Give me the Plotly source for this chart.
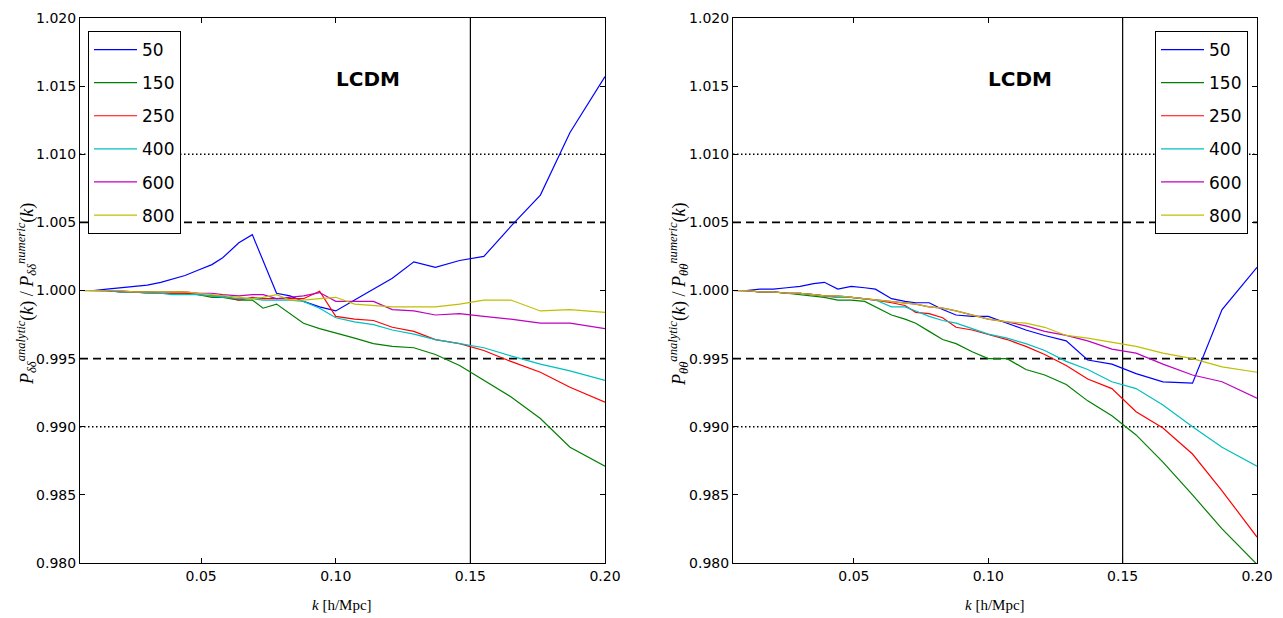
import plotly.graph_objects as go

# ---- data ----
K = [0.005, 0.010, 0.015, 0.020, 0.025, 0.030, 0.035, 0.039, 0.044, 0.049,
     0.054, 0.058, 0.064, 0.069, 0.073, 0.078, 0.083, 0.088, 0.094, 0.100,
     0.107, 0.114, 0.121, 0.129, 0.137, 0.146, 0.155, 0.165, 0.176, 0.187, 0.200]

LABELS = ["50", "150", "250", "400", "600", "800"]
COLORS = ["#0000ff", "#008000", "#ff0000", "#00bfbf", "#bf00bf", "#bfbf00"]

# left panel: P_dd analytic / numeric
dd_50 = [1.0000, 1.0000, 1.0001, 1.0002, 1.0003, 1.0004, 1.0006, 1.0008, 1.0011, 1.0015,
         1.0019, 1.0024, 1.0035, 1.0041, 1.0022, 0.9998, 0.9996, 0.9992, 0.9988, 0.9985,
         0.9993, 1.0001, 1.0009, 1.0021, 1.0017, 1.0022, 1.0025, 1.0047, 1.0070, 1.0116, 1.0157]
dd_150 = [1.0000, 1.0000, 0.99998, 0.9999, 0.9999, 0.9998, 0.9998, 0.9998, 0.9998, 0.9997,
          0.9995, 0.9995, 0.9993, 0.9993, 0.9987, 0.9990, 0.9983, 0.9976, 0.9972, 0.9969,
          0.9965, 0.9961, 0.9959, 0.9958, 0.9953, 0.9945, 0.9934, 0.9922, 0.9906, 0.9885, 0.9871]
dd_250 = [1.0000, 1.0000, 0.99998, 0.9999, 0.9999, 0.9999, 0.9998, 0.9998, 0.9998, 0.9997,
          0.9996, 0.9996, 0.9993, 0.9995, 0.9994, 0.9994, 0.9994, 0.9994, 0.99995, 0.9981,
          0.9979, 0.9978, 0.9973, 0.9970, 0.9964, 0.9961, 0.9956, 0.9948, 0.9940, 0.9929, 0.9918]
dd_400 = [1.0000, 1.0000, 0.99998, 0.9999, 0.9999, 0.9998, 0.9998, 0.9997, 0.9997, 0.9997,
          0.9996, 0.9995, 0.9994, 0.9994, 0.9993, 0.9993, 0.9993, 0.9992, 0.9987, 0.9980,
          0.9977, 0.9975, 0.9971, 0.9968, 0.9964, 0.9961, 0.9958, 0.9952, 0.9946, 0.9941, 0.9934]
dd_600 = [1.0000, 1.0000, 1.0000, 0.99998, 0.9999, 0.9999, 0.9999, 0.9999, 0.9999, 0.9998,
          0.9998, 0.9997, 0.9996, 0.9997, 0.9997, 0.9994, 0.9995, 0.9996, 0.99985, 0.9992,
          0.9992, 0.9992, 0.9986, 0.9985, 0.9982, 0.9983, 0.9981, 0.9979, 0.9976, 0.9976, 0.9972]
dd_800 = [1.0000, 1.0000, 1.0000, 0.99998, 0.9999, 0.9999, 0.9999, 0.9999, 0.9999, 0.9998,
          0.9997, 0.9996, 0.9995, 0.9994, 0.9995, 0.9997, 0.9993, 0.9993, 0.9994, 0.9995,
          0.9990, 0.9989, 0.9988, 0.9988, 0.9988, 0.9990, 0.9993, 0.9993, 0.9985, 0.9986, 0.9984]

# right panel: P_tt analytic / numeric
tt_50 = [1.0000, 1.0000, 1.0001, 1.0001, 1.0002, 1.0003, 1.0005, 1.0006, 1.0001, 1.0003,
         1.0002, 1.0001, 0.9994, 0.9992, 0.9991, 0.9991, 0.9986, 0.9982, 0.9981, 0.9981,
         0.9976, 0.9971, 0.9967, 0.9963, 0.9949, 0.9946, 0.9939, 0.9933, 0.9932, 0.9986, 1.0017]
tt_150 = [1.0000, 0.99998, 0.9999, 0.9999, 0.9998, 0.9997, 0.9996, 0.9995, 0.9993, 0.9993,
          0.9992, 0.9988, 0.9982, 0.9979, 0.9976, 0.9970, 0.9964, 0.9961, 0.9955, 0.9950,
          0.9950, 0.9942, 0.9938, 0.9931, 0.9919, 0.9908, 0.9894, 0.9874, 0.9850, 0.9825, 0.9799]
tt_250 = [1.0000, 0.99998, 0.9999, 0.9999, 0.9998, 0.9998, 0.9997, 0.9996, 0.9995, 0.9995,
          0.9994, 0.9993, 0.9991, 0.9989, 0.9984, 0.9983, 0.9980, 0.9973, 0.9971, 0.9968,
          0.9964, 0.9959, 0.9953, 0.9945, 0.9935, 0.9928, 0.9911, 0.9899, 0.9880, 0.9853, 0.9819]
tt_400 = [1.0000, 0.99998, 0.9999, 0.9999, 0.9998, 0.9998, 0.9997, 0.9996, 0.9995, 0.9995,
          0.9994, 0.9993, 0.9988, 0.9988, 0.9985, 0.9981, 0.9978, 0.9976, 0.9972, 0.9968,
          0.9965, 0.9961, 0.9956, 0.9948, 0.9942, 0.9933, 0.9928, 0.9916, 0.9900, 0.9885, 0.9871]
tt_600 = [1.0000, 0.99998, 0.9999, 0.9999, 0.9998, 0.9998, 0.9997, 0.9996, 0.9996, 0.9995,
          0.9994, 0.9993, 0.9992, 0.9991, 0.9990, 0.9988, 0.9987, 0.9985, 0.9982, 0.9979,
          0.9977, 0.9974, 0.9970, 0.9967, 0.9963, 0.9957, 0.9954, 0.9946, 0.9938, 0.9933, 0.9921]
tt_800 = [1.0000, 0.99998, 0.9999, 0.9999, 0.9998, 0.9998, 0.9997, 0.9996, 0.9996, 0.9995,
          0.9994, 0.9993, 0.9992, 0.9991, 0.9990, 0.9988, 0.9987, 0.9985, 0.9982, 0.9979,
          0.9977, 0.9976, 0.9973, 0.9967, 0.9965, 0.9962, 0.9959, 0.9954, 0.9950, 0.9944, 0.9940]

DD = [dd_50, dd_150, dd_250, dd_400, dd_600, dd_800]
TT = [tt_50, tt_150, tt_250, tt_400, tt_600, tt_800]

Y_TICKS = [0.980, 0.985, 0.990, 0.995, 1.000, 1.005, 1.010, 1.015, 1.020]
X_TICKS = [0.05, 0.10, 0.15, 0.20]
DOTTED = [1.010, 0.990]
DASHED = [1.005, 0.995]
K_CUT = 0.15

# ---- figure ----
W, H = 1283, 618
fig = go.Figure()

for i, (lab, col) in enumerate(zip(LABELS, COLORS)):
    fig.add_trace(go.Scatter(x=K, y=DD[i], mode="lines", name=lab,
                             line=dict(color=col, width=1.2),
                             xaxis="x", yaxis="y", legend="legend",
                             legendgroup="L" + lab))
for i, (lab, col) in enumerate(zip(LABELS, COLORS)):
    fig.add_trace(go.Scatter(x=K, y=TT[i], mode="lines", name=lab,
                             line=dict(color=col, width=1.2),
                             xaxis="x2", yaxis="y2", legend="legend2",
                             legendgroup="R" + lab))

def px_x(p):
    return p / W

def px_y(p):
    return 1 - p / H

xdom1 = [px_x(80), px_x(605)]
xdom2 = [px_x(733), px_x(1257)]
ydom = [px_y(563), px_y(18)]

tickfont = dict(family="DejaVu Sans", size=14, color="black")
axis_common = dict(showgrid=False, zeroline=False, showline=True, linecolor="black",
                   linewidth=1, mirror="ticks", ticks="inside", ticklen=5,
                   tickcolor="black", tickfont=tickfont, automargin=False)

legend_common = dict(yanchor="top", bgcolor="white", bordercolor="black", borderwidth=1,
                     font=dict(family="DejaVu Sans", size=17, color="black"),
                     tracegroupgap=8, itemwidth=43)

fig.update_layout(
    width=W, height=H,
    margin=dict(l=0, r=0, t=0, b=0),
    paper_bgcolor="white", plot_bgcolor="white",
    xaxis=dict(domain=xdom1, range=[0.005, 0.2], tickvals=X_TICKS,
               ticktext=["%.2f" % v for v in X_TICKS], anchor="y", **axis_common),
    yaxis=dict(domain=ydom, range=[0.98, 1.02], tickvals=Y_TICKS,
               ticktext=["%.3f" % v for v in Y_TICKS], anchor="x", **axis_common),
    xaxis2=dict(domain=xdom2, range=[0.005, 0.2], tickvals=X_TICKS,
                ticktext=["%.2f" % v for v in X_TICKS], anchor="y2", **axis_common),
    yaxis2=dict(domain=ydom, range=[0.98, 1.02], tickvals=Y_TICKS,
                ticktext=["%.3f" % v for v in Y_TICKS], anchor="x2", **axis_common),
    legend=dict(x=px_x(88), y=px_y(31), xanchor="left", **legend_common),
    legend2=dict(x=px_x(1248), y=px_y(31), xanchor="right", **legend_common),
    showlegend=True,
)

for xa, ya in [("x", "y"), ("x2", "y2")]:
    for v in DOTTED:
        fig.add_shape(type="line", xref=xa + " domain", yref=ya, x0=0, x1=1, y0=v, y1=v,
                      line=dict(color="black", width=1.3, dash="1.5px,2.5px"), layer="below")
    for v in DASHED:
        fig.add_shape(type="line", xref=xa + " domain", yref=ya, x0=0, x1=1, y0=v, y1=v,
                      line=dict(color="black", width=1.6, dash="8px,5px"), layer="below")
    fig.add_shape(type="line", xref=xa, yref=ya + " domain", x0=K_CUT, x1=K_CUT, y0=0, y1=1,
                  line=dict(color="black", width=1.2), layer="below")

title_font = dict(family="Liberation Serif", size=15, color="black")
ytitle_font = dict(family="Liberation Serif", size=18, color="black")
ann = [
    dict(text="<b>LCDM</b>", x=px_x(368), y=px_y(79),
         font=dict(family="DejaVu Sans", size=20, color="black")),
    dict(text="<b>LCDM</b>", x=px_x(1020), y=px_y(79),
         font=dict(family="DejaVu Sans", size=20, color="black")),
    dict(text="<i>k</i> [h/Mpc]", x=px_x(342), y=px_y(605), font=title_font),
    dict(text="<i>k</i> [h/Mpc]", x=px_x(995), y=px_y(605), font=title_font),
    dict(text="<i>P</i><sub><i>δδ</i></sub><sup><i>analytic</i></sup>(<i>k</i>) / "
              "<i>P</i><sub><i>δδ</i></sub><sup><i>numeric</i></sup>(<i>k</i>)",
         x=px_x(26), y=px_y(294), textangle=-90, font=ytitle_font),
    dict(text="<i>P</i><sub><i>θθ</i></sub><sup><i>analytic</i></sup>(<i>k</i>) / "
              "<i>P</i><sub><i>θθ</i></sub><sup><i>numeric</i></sup>(<i>k</i>)",
         x=px_x(678), y=px_y(294), textangle=-90, font=ytitle_font),
]
for a in ann:
    fig.add_annotation(xref="paper", yref="paper", showarrow=False,
                       xanchor="center", yanchor="middle", **a)

fig.write_html("out.html", include_plotlyjs=True,
               config={"displayModeBar": False},
               post_script="document.body.style.margin='0px';")
